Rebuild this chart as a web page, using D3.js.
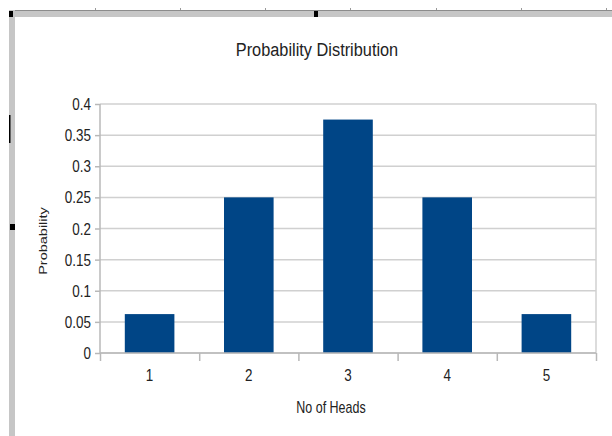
<!DOCTYPE html>
<html><head><meta charset="utf-8">
<script src="https://cdn.jsdelivr.net/npm/d3@7"></script>
<style>
body{margin:0;background:#fff;}
svg{display:block;}
text{font-family:"Liberation Sans",Arial,sans-serif;fill:#222;}
</style></head>
<body>
<script>
const categories = ["1","2","3","4","5"];
const values = [0.0625, 0.25, 0.375, 0.25, 0.0625];
const yTicks = [0, 0.05, 0.1, 0.15, 0.2, 0.25, 0.3, 0.35, 0.4];
const yTickLabels = ["0","0.05","0.1","0.15","0.2","0.25","0.3","0.35","0.4"];
const chartTitle = "Probability Distribution";
const xTitle = "No of Heads";
const yTitle = "Probability";

(function(){
const W = 612, H = 436;
const svg = d3.select("body").append("svg").attr("width", W).attr("height", H);

// window frame (spreadsheet chrome)
svg.append("rect").attr("x",9).attr("y",10).attr("width",W-9).attr("height",7).attr("fill","#c6c6c6");
svg.append("line").attr("x1",9).attr("x2",W).attr("y1",10.5).attr("y2",10.5).attr("stroke","#8c8c8c");
svg.append("rect").attr("x",9).attr("y",10).attr("width",6).attr("height",H-10).attr("fill","#c6c6c6");
[95,180,265,350,436,521,606].forEach(px=>{
  svg.append("line").attr("x1",px+0.5).attr("x2",px+0.5).attr("y1",8).attr("y2",10).attr("stroke","#999");
});
svg.append("rect").attr("x",9).attr("y",11).attr("width",4).attr("height",6).attr("fill","#000");
svg.append("rect").attr("x",314).attr("y",11).attr("width",4).attr("height",6).attr("fill","#000");
svg.append("rect").attr("x",10).attr("y",224).attr("width",5).attr("height",6).attr("fill","#000");
svg.append("rect").attr("x",9).attr("y",115).attr("width",1.5).attr("height",28).attr("fill","#000");

const pL = 100, pR = 596, pT = 104, pB = 353;
const x = d3.scaleBand().domain(categories).range([pL,pR]).paddingInner(0.5).paddingOuter(0.25);
const xb = d3.scaleLinear().domain([0.5,5.5]).range([pL,pR]);
const y = d3.scaleLinear().domain([0,0.4]).range([pB,pT]);

const gridColor = "#d0d0d0", axisColor = "#b8b8b8";

// gridlines
svg.append("g").selectAll("line").data(yTicks).join("line")
  .attr("x1",pL).attr("x2",pR)
  .attr("y1",d=>y(d)).attr("y2",d=>y(d))
  .attr("stroke",gridColor).attr("stroke-width",1.5);
// right border
svg.append("line").attr("x1",pR).attr("x2",pR).attr("y1",pT).attr("y2",pB)
  .attr("stroke",gridColor).attr("stroke-width",1.5);

// bars
svg.append("g").selectAll("rect").data(values).join("rect")
  .attr("x",(d,i)=>x(categories[i]))
  .attr("width",x.bandwidth())
  .attr("y",d=>y(d))
  .attr("height",d=>y(0)-y(d))
  .attr("fill","#004586");

// y axis
const ya = svg.append("g").attr("transform",`translate(${pL},0)`)
  .call(d3.axisLeft(y).tickValues(yTicks).tickSize(5).tickFormat(""));
ya.selectAll("path,line").attr("stroke",axisColor).attr("stroke-width",1.5);
ya.select("path").attr("d",`M0,${pT}V${pB}`);

// x axis
const xa = svg.append("g").attr("transform",`translate(0,${pB})`)
  .call(d3.axisBottom(xb).tickValues(d3.range(0.5,5.6,1)).tickSize(8).tickFormat(""));
xa.selectAll("path,line").attr("stroke",axisColor).attr("stroke-width",1.5);
xa.select("path").attr("d",`M${pL},0H${pR}`);

const sx = 0.84;
// y tick labels
svg.append("g").selectAll("text").data(yTicks).join("text")
  .attr("transform",d=>`translate(91,${y(d)+6}) scale(${sx},1)`)
  .attr("text-anchor","end").attr("font-size",16)
  .text((d,i)=>yTickLabels[i]);
// x tick labels
svg.append("g").selectAll("text").data(categories).join("text")
  .attr("transform",d=>`translate(${x(d)+x.bandwidth()/2},381) scale(${sx},1)`)
  .attr("text-anchor","middle").attr("font-size",16)
  .text(d=>d);

// titles
svg.append("text").attr("transform","translate(317,55.5) scale(0.86,1)")
  .attr("text-anchor","middle").attr("font-size",19).text(chartTitle);
svg.append("text").attr("transform","translate(331,413) scale(0.78,1)")
  .attr("text-anchor","middle").attr("font-size",16).text(xTitle);
svg.append("text").attr("transform","translate(47,241) scale(0.8,1) rotate(-90)")
  .attr("text-anchor","middle").attr("font-size",14.5).text(yTitle);
})();
</script>
</body></html>
